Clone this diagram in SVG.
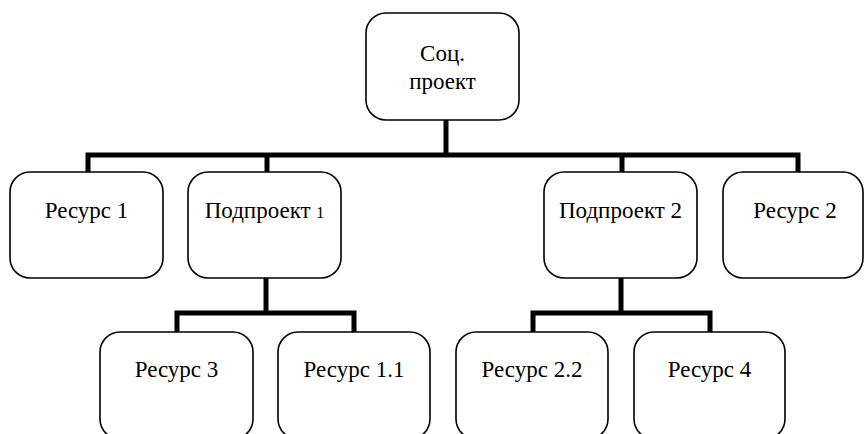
<svg xmlns="http://www.w3.org/2000/svg" width="864" height="434" viewBox="0 0 864 434">
<style>
.box{fill:#fff;stroke:#000;stroke-width:1.6}
.t{font-size:23px;fill:#000;text-anchor:middle}
.c{fill:none;stroke:#000;stroke-width:5;stroke-linecap:butt;stroke-linejoin:miter}
</style>
<rect width="864" height="434" fill="#fff"/>
<g id="connectors">
<path class="c" d="M446 120V155"/>
<path class="c" d="M88 178V155H798V178"/>
<path class="c" d="M267 155V178"/>
<path class="c" d="M622 155V178"/>
<path class="c" d="M266 278V313"/>
<path class="c" d="M177 336V313H354V336"/>
<path class="c" d="M621 278V313"/>
<path class="c" d="M533 336V313H710V336"/>
</g>
<g font-family="Liberation Serif, Tinos, DejaVu Serif, serif">
<g id="n-soc"><rect class="box" x="366" y="13" width="153" height="107" rx="20"/><text class="t" x="442.5" y="61">Соц.</text><text class="t" x="442.5" y="89">проект</text></g>
<g id="n-res1"><rect class="box" x="10" y="172" width="153" height="106" rx="20"/><text class="t" x="86.5" y="218">Ресурс 1</text></g>
<g id="n-sub1"><rect class="box" x="188" y="172" width="153" height="106" rx="20"/><text class="t" x="264.5" y="218">Подпроект <tspan font-size="16">1</tspan></text></g>
<g id="n-sub2"><rect class="box" x="544" y="172" width="153" height="106" rx="20"/><text class="t" x="620.5" y="218">Подпроект 2</text></g>
<g id="n-res2"><rect class="box" x="723" y="172" width="140" height="106" rx="20"/><text class="t" x="795" y="218">Ресурс 2</text></g>
<g id="n-res3"><rect class="box" x="100" y="332" width="153" height="107" rx="20"/><text class="t" x="176.5" y="377">Ресурс 3</text></g>
<g id="n-res11"><rect class="box" x="278" y="332" width="152" height="107" rx="20"/><text class="t" x="354" y="377">Ресурс 1.1</text></g>
<g id="n-res22"><rect class="box" x="456" y="332" width="152" height="107" rx="20"/><text class="t" x="532" y="377">Ресурс 2.2</text></g>
<g id="n-res4"><rect class="box" x="634" y="332" width="151" height="107" rx="20"/><text class="t" x="709.5" y="377">Ресурс 4</text></g>
</g>
</svg>
